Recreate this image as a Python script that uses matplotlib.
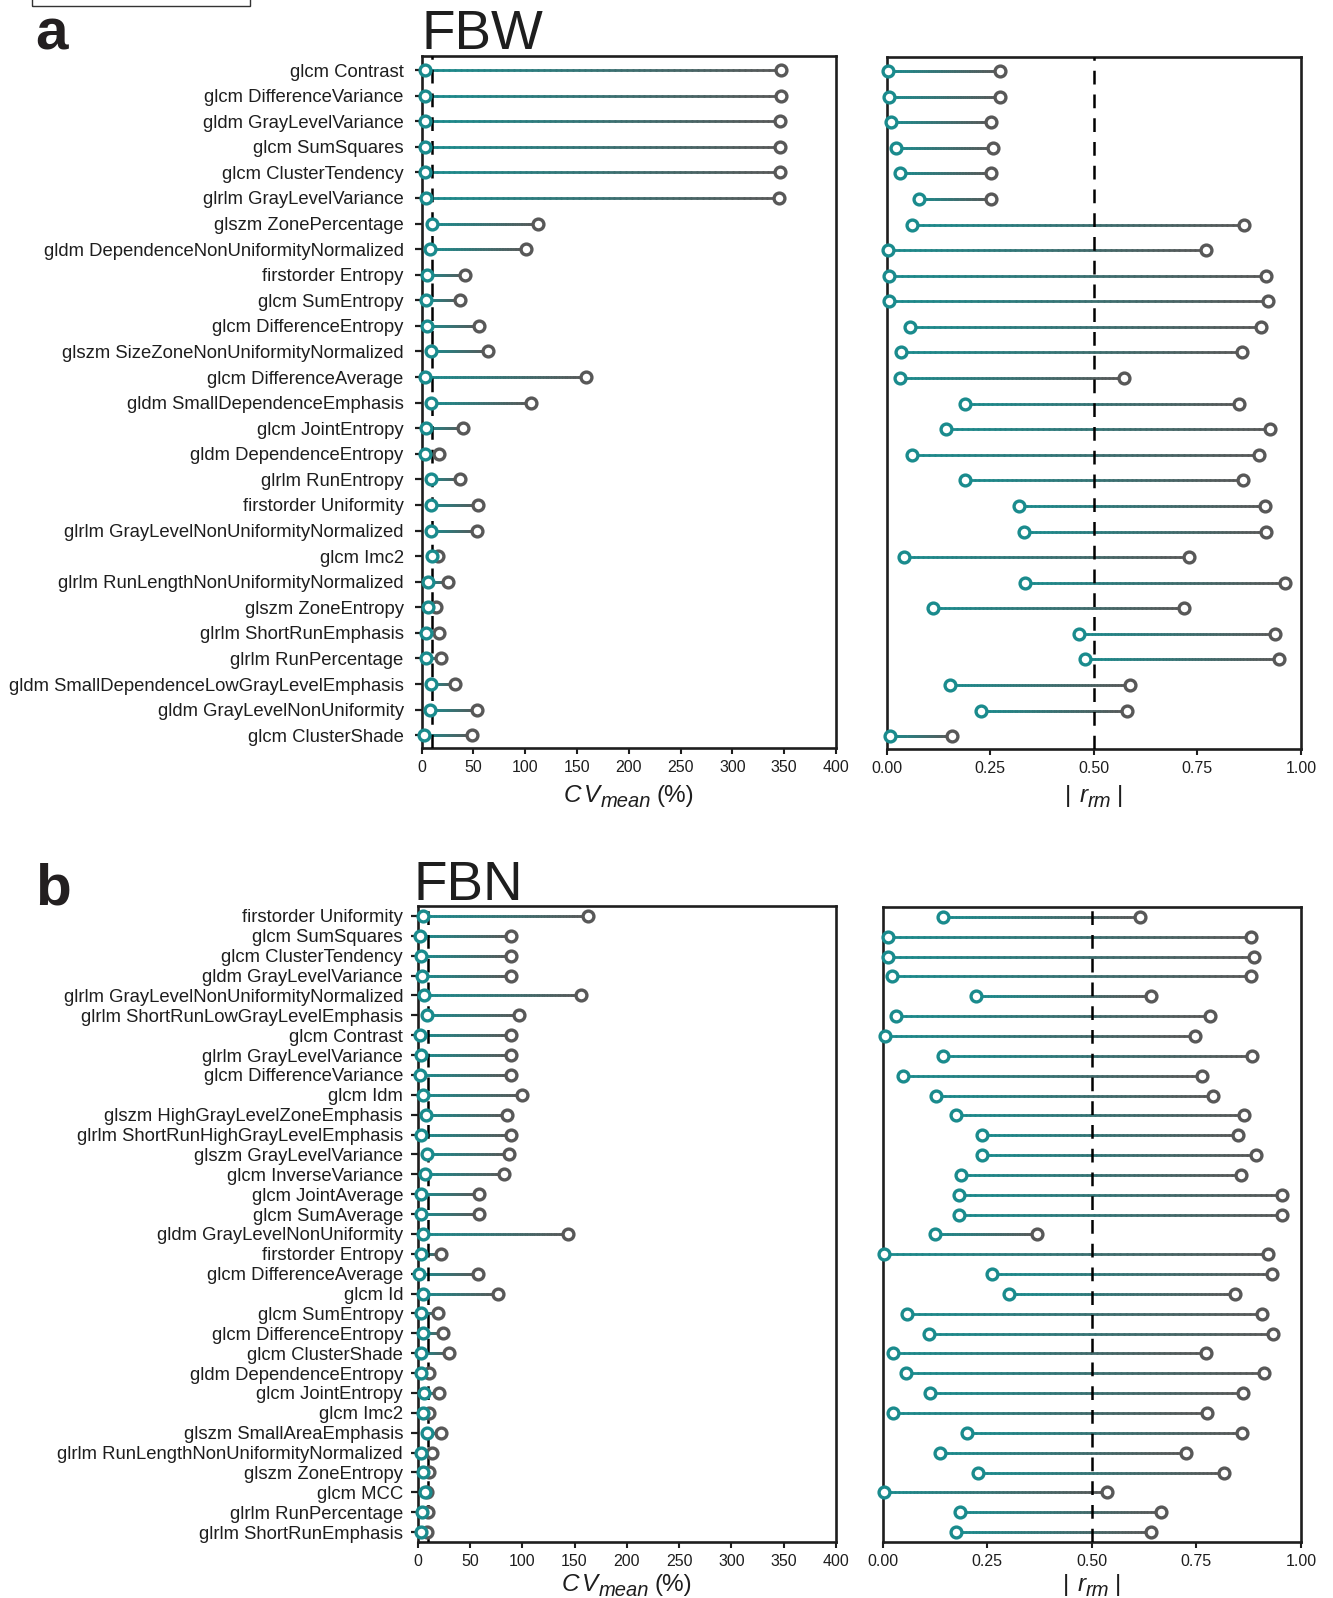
import numpy as np
import matplotlib
matplotlib.use("Agg")
import matplotlib.pyplot as plt
from matplotlib.collections import LineCollection
from matplotlib.colors import to_rgb
from matplotlib.patches import Rectangle
import matplotlib.transforms as mtransforms

plt.rcParams['font.family'] = ['Liberation Sans', 'DejaVu Sans']

# ---------------- data ----------------
fbw_features = [
    "glcm Contrast", "glcm DifferenceVariance", "gldm GrayLevelVariance",
    "glcm SumSquares", "glcm ClusterTendency", "glrlm GrayLevelVariance",
    "glszm ZonePercentage", "gldm DependenceNonUniformityNormalized",
    "firstorder Entropy", "glcm SumEntropy", "glcm DifferenceEntropy",
    "glszm SizeZoneNonUniformityNormalized", "glcm DifferenceAverage",
    "gldm SmallDependenceEmphasis", "glcm JointEntropy", "gldm DependenceEntropy",
    "glrlm RunEntropy", "firstorder Uniformity", "glrlm GrayLevelNonUniformityNormalized",
    "glcm Imc2", "glrlm RunLengthNonUniformityNormalized", "glszm ZoneEntropy",
    "glrlm ShortRunEmphasis", "glrlm RunPercentage",
    "gldm SmallDependenceLowGrayLevelEmphasis", "gldm GrayLevelNonUniformity",
    "glcm ClusterShade",
]
fbw_cv_low = [3.2, 3.2, 3.5, 3.0, 3.0, 4.2, 9.6, 8.4, 5.5, 3.9, 5.5, 8.7, 3.2,
              9.3, 3.8, 3.6, 9.3, 9.0, 9.3, 9.6, 6.4, 6.4, 3.9, 3.9, 8.7, 8.4, 1.9]
fbw_cv_high = [346.8, 346.8, 346.2, 346.2, 346.2, 345.2, 112.6, 100.4, 42.1, 37.3,
               55.7, 64.0, 158.6, 105.2, 40.0, 16.4, 37.0, 54.4, 53.4, 15.8, 25.7,
               13.5, 17.1, 19.0, 32.2, 53.7, 48.6]
fbw_r_low = [0.004, 0.006, 0.010, 0.023, 0.031, 0.078, 0.061, 0.004, 0.006, 0.006,
             0.057, 0.035, 0.031, 0.189, 0.143, 0.060, 0.190, 0.319, 0.331, 0.042,
             0.334, 0.111, 0.463, 0.479, 0.153, 0.227, 0.008]
fbw_r_high = [0.274, 0.274, 0.251, 0.256, 0.251, 0.251, 0.862, 0.770, 0.916, 0.921,
              0.903, 0.858, 0.573, 0.851, 0.925, 0.899, 0.859, 0.914, 0.916, 0.730,
              0.961, 0.718, 0.938, 0.947, 0.588, 0.580, 0.157]

fbn_features = [
    "firstorder Uniformity", "glcm SumSquares", "glcm ClusterTendency",
    "gldm GrayLevelVariance", "glrlm GrayLevelNonUniformityNormalized",
    "glrlm ShortRunLowGrayLevelEmphasis", "glcm Contrast", "glrlm GrayLevelVariance",
    "glcm DifferenceVariance", "glcm Idm", "glszm HighGrayLevelZoneEmphasis",
    "glrlm ShortRunHighGrayLevelEmphasis", "glszm GrayLevelVariance",
    "glcm InverseVariance", "glcm JointAverage", "glcm SumAverage",
    "gldm GrayLevelNonUniformity", "firstorder Entropy", "glcm DifferenceAverage",
    "glcm Id", "glcm SumEntropy", "glcm DifferenceEntropy", "glcm ClusterShade",
    "gldm DependenceEntropy", "glcm JointEntropy", "glcm Imc2",
    "glszm SmallAreaEmphasis", "glrlm RunLengthNonUniformityNormalized",
    "glszm ZoneEntropy", "glcm MCC", "glrlm RunPercentage", "glrlm ShortRunEmphasis",
]
fbn_cv_low = [4.8, 2.2, 2.9, 3.8, 6.4, 9.2, 2.2, 3.5, 2.2, 4.8, 7.6, 3.5, 9.2, 7.3,
              3.5, 3.5, 4.8, 2.9, 1.6, 4.8, 2.9, 4.8, 2.9, 2.9, 6.4, 4.8, 8.6, 2.9,
              5.4, 7.0, 3.8, 3.5]
fbn_cv_high = [162.9, 89.6, 89.6, 89.6, 156.2, 97.2, 89.6, 89.2, 89.2, 99.8, 85.1,
               89.2, 87.6, 82.2, 58.3, 58.3, 144.1, 22.3, 57.4, 77.1, 19.1, 24.5,
               30.3, 11.2, 20.7, 10.8, 22.0, 13.4, 11.2, 8.6, 9.9, 9.2]
fbn_r_low = [0.143, 0.012, 0.012, 0.022, 0.224, 0.031, 0.006, 0.144, 0.048, 0.127,
             0.175, 0.238, 0.237, 0.186, 0.183, 0.183, 0.124, 0.003, 0.261, 0.303,
             0.059, 0.110, 0.025, 0.055, 0.112, 0.024, 0.201, 0.137, 0.229, 0.003,
             0.184, 0.176]
fbn_r_high = [0.616, 0.880, 0.887, 0.880, 0.641, 0.782, 0.746, 0.882, 0.764, 0.790,
              0.864, 0.849, 0.892, 0.857, 0.955, 0.955, 0.370, 0.920, 0.931, 0.842,
              0.907, 0.932, 0.773, 0.911, 0.861, 0.775, 0.859, 0.724, 0.815, 0.537,
              0.665, 0.641]

cv_ticks = [0, 50, 100, 150, 200, 250, 300, 350, 400]
r_ticks = [0.0, 0.25, 0.50, 0.75, 1.00]
cv_threshold = 10
r_threshold = 0.5

# ---------------- style ----------------
TEAL = "#1a8b8d"
GRAY = "#585858"
INK = "#1e1e1e"
W, H = 1333, 1598
DPI = 100

fig = plt.figure(figsize=(W / DPI, H / DPI), dpi=DPI)


def add_axes_px(x0, y0, x1, y1):
    """Axes given by pixel box (top-left origin)."""
    return fig.add_axes([x0 / W, 1 - y1 / H, (x1 - x0) / W, (y1 - y0) / H])


def lollipops(ax, low, high):
    teal = np.array(to_rgb(TEAL))
    gray = np.array(to_rgb(GRAY))
    n = 60
    for i, (lo, hi) in enumerate(zip(low, high)):
        xs = np.linspace(lo, hi, n + 1)
        segs = [[(xs[k], i), (xs[k + 1], i)] for k in range(n)]
        frac = np.linspace(0, 1, n)[:, None]
        cols = teal * (1 - frac) + gray * frac
        lc = LineCollection(segs, colors=cols, linewidths=2.0, zorder=2,
                            capstyle='round')
        ax.add_collection(lc)
    y = np.arange(len(low))
    ax.plot(high, y, 'o', ms=7.8, mfc='white', mec=GRAY, mew=2.4, zorder=4,
            clip_on=False)
    ax.plot(low, y, 'o', ms=7.8, mfc='white', mec=TEAL, mew=2.4, zorder=5,
            clip_on=False)


def style_axes(ax, nrows, top_pad, bottom_pad):
    ax.set_ylim(nrows - 1 + bottom_pad, -top_pad)
    for sp in ax.spines.values():
        sp.set_linewidth(1.9)
        sp.set_color(INK)
    ax.tick_params(axis='x', direction='out', length=4, width=1.5, pad=5,
                   labelsize=11.5, colors=INK)


def cv_panel(box, feats, low, high, top_pad, bottom_pad, label_pad):
    ax = add_axes_px(*box)
    lollipops(ax, low, high)
    ax.axvline(cv_threshold, color='black', lw=1.8, dashes=(5.5, 4), zorder=3)
    ax.set_xlim(cv_ticks[0], cv_ticks[-1])
    ax.set_xticks(cv_ticks)
    ax.set_xticklabels([str(t) for t in cv_ticks])
    style_axes(ax, len(feats), top_pad, bottom_pad)
    ax.set_yticks(np.arange(len(feats)))
    ax.set_yticklabels(feats, fontsize=13.3, color=INK)
    ax.tick_params(axis='y', direction='out', length=5, width=1.6,
                   pad=label_pad, colors=INK)
    return ax


def r_panel(box, nrows, low, high, top_pad, bottom_pad):
    ax = add_axes_px(*box)
    lollipops(ax, low, high)
    ax.axvline(r_threshold, color='black', lw=1.8, dashes=(5.5, 4), zorder=3)
    ax.set_xlim(r_ticks[0], r_ticks[-1])
    ax.set_xticks(r_ticks)
    ax.set_xticklabels([f"{t:.2f}" for t in r_ticks])
    style_axes(ax, nrows, top_pad, bottom_pad)
    ax.set_yticks([])
    return ax


ax_a1 = cv_panel((421.7, 56, 836, 748), fbw_features, fbw_cv_low, fbw_cv_high,
                 0.55, 0.5, 8)
ax_a2 = r_panel((886.7, 57, 1301, 749), len(fbw_features), fbw_r_low, fbw_r_high,
                0.55, 0.5)
ax_b1 = cv_panel((417.7, 906, 836, 1542), fbn_features, fbn_cv_low, fbn_cv_high,
                 0.5, 0.5, 5.5)
ax_b2 = r_panel((882.7, 907, 1301, 1542), len(fbn_features), fbn_r_low, fbn_r_high,
                0.5, 0.5)

# ---------------- composite axis labels ----------------
renderer = fig.canvas.get_renderer()
ident = mtransforms.IdentityTransform()


def compound_label(ax, pieces, baseline_y):
    """Draw label pieces (text, style, size, drop_px, gap_px) centred under ax."""
    texts, widths = [], []
    for s, style, size, drop, gap in pieces:
        t = fig.text(0, 0, s, fontsize=size, style=style, color=INK,
                     ha='left', va='baseline', transform=ident)
        texts.append(t)
        widths.append(t.get_window_extent(renderer).width)
    total = sum(widths) + sum(p[4] for p in pieces)
    bb = ax.get_position()
    cx = (bb.x0 + bb.x1) / 2 * W
    x = cx - total / 2
    for t, w, p in zip(texts, widths, pieces):
        x += p[4]
        t.set_position((x, H - baseline_y - p[3]))
        x += w


cv_label = [("C", "italic", 17.5, 0, 0), ("V", "italic", 17.5, 0, 3),
            ("mean", "italic", 14.5, 5, 1), ("(%)", "normal", 17.5, 0, 5)]
r_label = [("|", "normal", 17.5, 0, 0), ("r", "italic", 17.5, 0, 9),
           ("rm", "italic", 14.5, 5, 0), ("|", "normal", 17.5, 0, 5)]

compound_label(ax_a1, cv_label, 802)
compound_label(ax_a2, r_label, 802)
compound_label(ax_b1, cv_label, 1591)
compound_label(ax_b2, r_label, 1591)

# ---------------- titles and panel letters ----------------
def fig_text_px(x, y_baseline, s, **kw):
    fig.text(x / W, 1 - y_baseline / H, s, ha='left', va='baseline', **kw)


fig_text_px(35, 49, "a", fontsize=42, fontweight='bold', color="#231f20")
fig_text_px(35, 904, "b", fontsize=42, fontweight='bold', color="#231f20")
fig_text_px(421, 49, "FBW", fontsize=39.5, color=INK)
fig_text_px(414, 900, "FBN", fontsize=39.5, color=INK)

# frame fragment along the top edge
fig.patches.append(Rectangle((32 / W, 1 - 6 / H), (250 - 32) / W, 40 / H,
                             transform=fig.transFigure, fill=False,
                             edgecolor="#333333", linewidth=1.0))

fig.savefig("out.png", dpi=DPI)
